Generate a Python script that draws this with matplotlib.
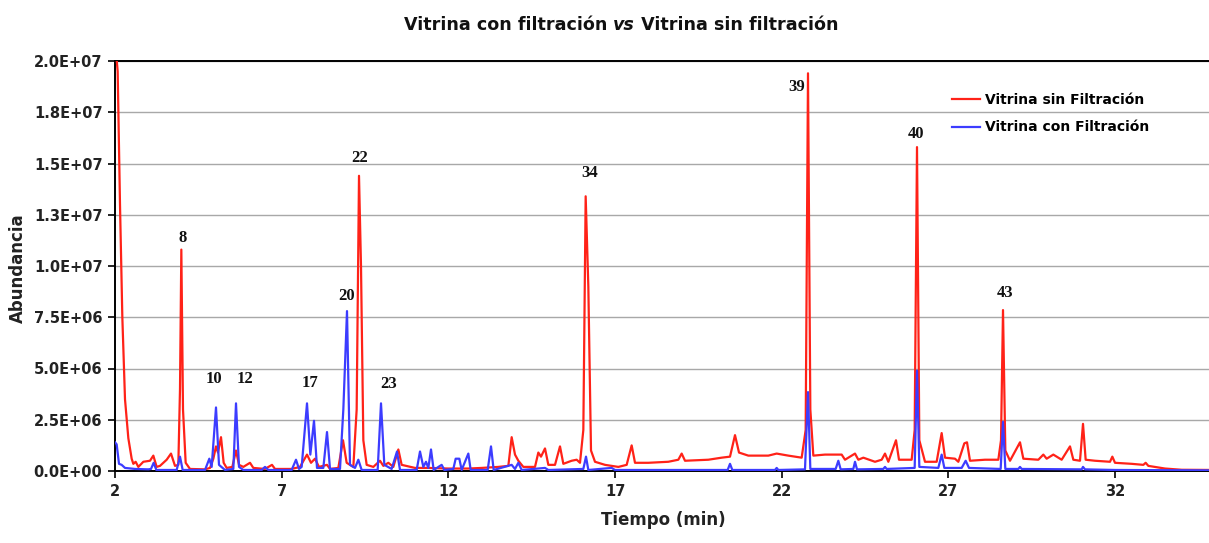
import matplotlib
matplotlib.use("Agg")
import matplotlib.pyplot as plt
import numpy as np

SCALE = 1e6

# Red series: Vitrina sin Filtración (time in min, abundance in millions)
red_t = [2.00, 2.08, 2.15, 2.22, 2.30, 2.40, 2.50, 2.55, 2.62, 2.70, 2.85, 3.05, 3.15, 3.25, 3.35, 3.55, 3.68, 3.80, 3.90,
         3.95, 3.99, 4.04, 4.12, 4.25,
         4.70, 4.85, 4.95, 5.03, 5.09, 5.18, 5.26, 5.35, 5.52, 5.63, 5.72, 5.85, 6.05, 6.15, 6.50, 6.71, 6.80, 7.30, 7.55,
         7.76, 7.88, 8.00, 8.12, 8.36, 8.45, 8.70, 8.84, 8.95, 9.15,
         9.25, 9.32, 9.38, 9.45, 9.55, 9.75, 9.95, 10.05, 10.20, 10.35, 10.50, 10.60, 11.00, 11.40, 12.00, 12.60, 13.00,
         13.50, 13.80, 13.90, 14.00, 14.10, 14.25, 14.60, 14.70, 14.78, 14.90, 15.00, 15.20, 15.35, 15.45, 15.70, 15.85,
         15.95, 16.05,
         16.12, 16.20, 16.28, 16.40, 16.70, 17.10, 17.35, 17.50, 17.60, 18.00, 18.60, 18.90, 19.00, 19.10, 19.80, 20.20,
         20.45, 20.60, 20.72, 21.00, 21.60, 21.85, 22.20, 22.60,
         22.72, 22.79, 22.86, 22.95, 23.30, 23.80, 23.90, 24.20, 24.30, 24.45, 24.80, 25.00, 25.10, 25.20, 25.43, 25.52,
         25.90,
         25.99, 26.06, 26.13, 26.30, 26.65, 26.80, 26.90, 27.20, 27.30, 27.48, 27.56, 27.65, 28.10, 28.50,
         28.58, 28.64, 28.71, 28.85, 29.15, 29.25, 29.70, 29.85, 29.95, 30.15, 30.40, 30.65, 30.75, 30.95, 31.04, 31.12,
         31.40, 31.85, 31.92, 32.00, 32.50, 32.85, 32.92, 33.00, 33.50, 34.00, 35.00]
red_y = [21.0, 19.5, 13.0, 7.5, 3.5, 1.6, 0.6, 0.35, 0.45, 0.2, 0.45, 0.5, 0.75, 0.2, 0.25, 0.55, 0.85, 0.25, 0.3,
         4.0, 10.8, 3.0, 0.4, 0.1,
         0.08, 0.15, 0.6, 1.2, 0.9, 1.65, 0.4, 0.15, 0.2, 1.0, 0.3, 0.2, 0.4, 0.15, 0.1, 0.3, 0.1, 0.1, 0.2,
         0.8, 0.4, 0.6, 0.2, 0.3, 0.1, 0.15, 1.5, 0.4, 0.2,
         3.0, 14.4, 10.0, 1.5, 0.3, 0.2, 0.5, 0.25, 0.4, 0.2, 1.05, 0.3, 0.15, 0.15, 0.12, 0.12, 0.15,
         0.2, 0.25, 1.65, 0.8, 0.5, 0.2, 0.2, 0.9, 0.7, 1.1, 0.3, 0.3, 1.2, 0.35, 0.5, 0.55,
         0.4, 2.0,
         13.4, 9.0, 1.0, 0.45, 0.3, 0.2, 0.3, 1.25, 0.4, 0.4, 0.45, 0.55, 0.85, 0.5, 0.55, 0.65,
         0.7, 1.75, 0.9, 0.75, 0.75, 0.85, 0.75, 0.65,
         2.0, 19.4, 3.0, 0.75, 0.8, 0.8, 0.55, 0.85, 0.55, 0.65, 0.45, 0.55, 0.85, 0.45, 1.5, 0.55,
         0.55,
         2.0, 15.8, 1.5, 0.45, 0.45, 1.85, 0.65, 0.6, 0.45, 1.35, 1.4, 0.5, 0.55, 0.55,
         1.5, 7.85, 1.0, 0.5, 1.4, 0.6, 0.55, 0.8, 0.6, 0.8, 0.55, 1.2, 0.55, 0.5, 2.3, 0.55,
         0.5, 0.45, 0.7, 0.4, 0.35, 0.3, 0.4, 0.25, 0.12, 0.06, 0.05]

# Blue series: Vitrina con Filtración
blue_t = [2.00, 2.05, 2.12, 2.20, 2.30, 2.60, 3.00, 3.08, 3.16, 3.24, 3.85, 3.95, 4.03, 4.70, 4.83, 4.90, 5.03, 5.12,
          5.30, 5.55, 5.63, 5.72, 5.85, 6.40, 6.50, 6.60, 7.30, 7.43, 7.52, 7.60, 7.76, 7.86, 7.97, 8.06, 8.25, 8.36,
          8.45, 8.75, 8.85, 8.96, 9.05, 9.20, 9.30, 9.40, 9.88, 9.98, 10.08, 10.30, 10.46, 10.55, 11.05, 11.15, 11.25,
          11.33, 11.40, 11.48, 11.56, 11.80, 11.88, 12.15, 12.22, 12.33, 12.40, 12.60, 12.67, 13.18, 13.28, 13.36,
          13.90, 14.00, 14.10, 14.20, 14.90, 15.00, 16.05, 16.13, 16.20, 16.90, 17.00, 20.38, 20.45, 20.52, 21.80,
          21.85, 21.90, 22.70, 22.79, 22.86, 23.62, 23.70, 23.77, 24.15, 24.20, 24.26, 25.05, 25.10, 25.15, 25.99,
          26.06, 26.13, 26.70, 26.80, 26.88, 27.40, 27.52, 27.62, 28.57, 28.64, 28.71, 29.10, 29.15, 29.20, 31.00,
          31.04, 31.10, 32.00, 35.00]
blue_y = [1.4, 1.3, 0.35, 0.3, 0.15, 0.1, 0.08, 0.1, 0.4, 0.05, 0.05, 0.7, 0.05, 0.05, 0.6, 0.2, 3.1, 0.3,
          0.05, 0.1, 3.3, 0.2, 0.05, 0.05, 0.2, 0.05, 0.05, 0.55, 0.1, 0.2, 3.3, 0.8, 2.45, 0.15, 0.15, 1.9,
          0.1, 0.1, 3.0, 7.8, 0.3, 0.15, 0.55, 0.05, 0.05, 3.3, 0.3, 0.1, 0.95, 0.05, 0.05, 0.95, 0.2,
          0.45, 0.15, 1.05, 0.05, 0.3, 0.05, 0.1, 0.6, 0.6, 0.05, 0.85, 0.05, 0.05, 1.2, 0.05,
          0.3, 0.1, 0.4, 0.05, 0.15, 0.05, 0.1, 0.7, 0.05, 0.15, 0.05, 0.05, 0.35, 0.05, 0.05,
          0.15, 0.05, 0.08, 3.85, 0.1, 0.1, 0.5, 0.08, 0.1, 0.45, 0.08, 0.1, 0.2, 0.1, 0.15,
          4.9, 0.2, 0.15, 0.8, 0.15, 0.15, 0.5, 0.15, 0.1, 2.4, 0.1, 0.1, 0.2, 0.1, 0.08,
          0.2, 0.08, 0.05, 0.03]

# Peak labels
peak_labels = ["8", "10", "12", "17", "20", "22", "23", "34", "39", "40", "43"]
peak_label_t = [4.04, 4.97, 5.90, 7.85, 8.96, 9.35, 10.22, 16.25, 22.46, 26.03, 28.70]
peak_label_y = [11.37, 4.49, 4.49, 4.29, 8.54, 15.27, 4.24, 14.54, 18.73, 16.44, 8.68]

x_ticks = [2, 7, 12, 17, 22, 27, 32]
y_ticks = [0, 2.5, 5.0, 7.5, 10.0, 12.5, 15.0, 17.5, 20.0]
y_tick_labels = ["0.0E+00", "2.5E+06", "5.0E+06", "7.5E+06", "1.0E+07", "1.3E+07", "1.5E+07", "1.8E+07", "2.0E+07"]

series_names = ["Vitrina sin Filtración", "Vitrina con Filtración"]
RED = "#ff2218"
BLUE = "#3c3cff"

W, H = 1209, 543
fig = plt.figure(figsize=(W / 100, H / 100), dpi=100)
fig.patch.set_facecolor("white")

ax = fig.add_axes([115 / W, 72 / H, 1100 / W, 410 / H])
ax.set_xlim(2, 35)
ax.set_ylim(0, 20.0 * SCALE)

ax.plot(np.array(red_t), np.array(red_y) * SCALE, color=RED, lw=1.6, label=series_names[0], zorder=3)
ax.plot(np.array(blue_t), np.array(blue_y) * SCALE, color=BLUE, lw=1.6, label=series_names[1], zorder=4)

ax.set_xticks(x_ticks)
ax.set_xticklabels([str(v) for v in x_ticks])
ax.set_yticks(np.array(y_ticks) * SCALE)
ax.set_yticklabels(y_tick_labels)
ax.tick_params(axis="both", direction="out", length=5, width=1.2, color="black",
               labelsize=10.5, pad=4)
for lab in ax.get_xticklabels() + ax.get_yticklabels():
    lab.set_fontfamily("DejaVu Sans")
    lab.set_fontweight("bold")
    lab.set_color("#222222")

ax.yaxis.grid(True, color="#a8a8a8", lw=1.0, zorder=0)
ax.xaxis.grid(False)
ax.set_axisbelow(True)
for side in ["left", "bottom", "top"]:
    ax.spines[side].set_color("black")
    ax.spines[side].set_linewidth(1.4)
ax.spines["right"].set_visible(False)

for lab, t, y in zip(peak_labels, peak_label_t, peak_label_y):
    ax.text(t, y * SCALE, lab, ha="center", va="center", fontsize=12,
            family="Liberation Serif", fontweight="bold", color="#111111", zorder=5)

leg = ax.legend(loc="upper left", bbox_to_anchor=(952 / W, 1 - 93 / H), bbox_transform=fig.transFigure,
                frameon=False, borderpad=0, borderaxespad=0, handlelength=2.0, handletextpad=0.35,
                labelspacing=0.97, prop={"family": "DejaVu Sans", "weight": "bold", "size": 10})
for line in leg.get_lines():
    line.set_linewidth(1.6)

fig.text(663 / W, 1 - 520 / H, "Tiempo (min)", ha="center", va="center", fontsize=12,
         family="DejaVu Sans", fontweight="bold", color="#222222")
fig.text(18 / W, 1 - 268 / H, "Abundancia", ha="center", va="center", rotation=90, fontsize=12,
         family="DejaVu Sans", fontweight="bold", color="#222222")

# Title with italic "vs"
title_parts = ["Vitrina con filtración ", "vs", " Vitrina sin filtración"]
title_styles = ["normal", "italic", "normal"]
ty = 1 - 25 / H
texts = []
for part, st in zip(title_parts, title_styles):
    texts.append(fig.text(0, ty, part, ha="left", va="center", fontsize=12.6, family="DejaVu Sans",
                          fontweight="bold", style=st, color="#111111"))
fig.canvas.draw()
r = fig.canvas.get_renderer()
widths = [t.get_window_extent(r).width for t in texts]
total = sum(widths)
x0 = 621 - total / 2
for t, w in zip(texts, widths):
    t.set_x(x0 / W)
    x0 += w

fig.savefig("out.png", dpi=100, facecolor="white")
